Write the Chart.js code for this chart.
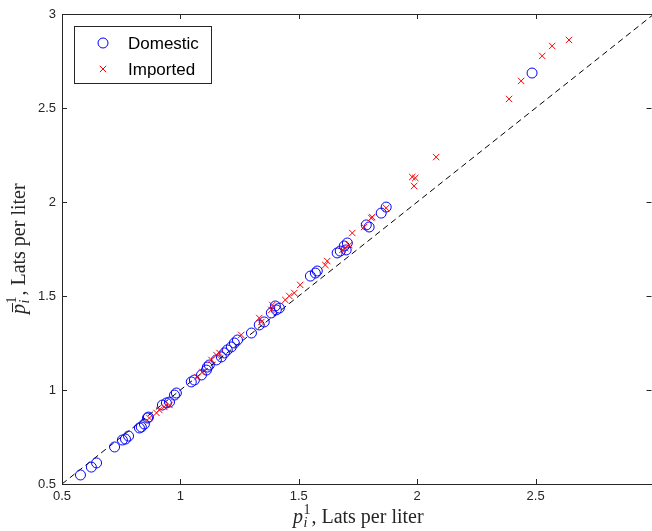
<!DOCTYPE html>
<html>
<head>
<meta charset="utf-8">
<script src="https://cdn.jsdelivr.net/npm/chart.js@4.4.1/dist/chart.umd.min.js"></script>
<style>
  html, body { margin: 0; padding: 0; background: #fff; overflow: hidden; }
  /* the reference crops the right edge of the axes box, so the canvas runs past the window */
  #wrap { width: 660px; height: 531px; position: relative; }
</style>
</head>
<body>
<div id="wrap"><canvas id="chart"></canvas></div>
<script>
/* ── Data ──────────────────────────────────────────────── */
const domesticX = [0.578, 0.624, 0.646, 0.722, 0.755, 0.768, 0.781, 0.827, 0.835, 0.848,
                   0.861, 0.865, 0.924, 0.941, 0.954, 0.975, 0.983, 1.046, 1.059, 1.089,
                   1.110, 1.114, 1.122, 1.152, 1.173, 1.186, 1.198, 1.215, 1.228, 1.241,
                   1.300, 1.333, 1.354, 1.384, 1.405, 1.401, 1.418, 1.549, 1.570, 1.578,
                   1.662, 1.675, 1.692, 1.705, 1.700, 1.785, 1.797, 1.848, 1.869, 2.485];
const domesticY = [0.548, 0.590, 0.612, 0.697, 0.734, 0.739, 0.755, 0.798, 0.803, 0.819,
                   0.851, 0.856, 0.920, 0.931, 0.936, 0.973, 0.984, 1.043, 1.053, 1.080,
                   1.106, 1.122, 1.133, 1.160, 1.176, 1.197, 1.213, 1.229, 1.250, 1.266,
                   1.303, 1.346, 1.362, 1.410, 1.426, 1.447, 1.436, 1.606, 1.622, 1.633,
                   1.729, 1.739, 1.766, 1.782, 1.745, 1.878, 1.867, 1.941, 1.973, 2.686];

const importedX = [0.869, 0.899, 0.911, 0.932, 0.954, 1.072, 1.093, 1.131, 1.152, 1.165,
                   1.257, 1.333, 1.342, 1.388, 1.384, 1.443, 1.460, 1.481, 1.506, 1.612,
                   1.620, 1.684, 1.696, 1.713, 1.726, 1.776, 1.806, 1.810, 1.869, 1.979,
                   1.992, 1.987, 2.080, 2.388, 2.439, 2.528, 2.570, 2.641];
const importedY = [0.851, 0.878, 0.894, 0.910, 0.920, 1.069, 1.096, 1.160, 1.186, 1.197,
                   1.293, 1.383, 1.362, 1.452, 1.426, 1.479, 1.500, 1.516, 1.559, 1.665,
                   1.686, 1.745, 1.755, 1.771, 1.835, 1.867, 1.915, 1.920, 1.968, 2.133,
                   2.128, 2.085, 2.239, 2.548, 2.644, 2.777, 2.830, 2.862];

const refLine    = [0.5, 3];                       // 45° line, y = x
const xTickVals  = [0.5, 1, 1.5, 2, 2.5, 3];
const yTickVals  = [0.5, 1, 1.5, 2, 2.5, 3];
const seriesNames = ['Domestic', 'Imported'];

const AXIS_CLR = '#262626';
const BLUE = '#0000ff';
const RED  = '#ff0000';

/* ── Axes box + inward ticks (MATLAB style) ────────────── */
const boxPlugin = {
  id: 'box',
  afterDatasetsDraw(chart) {
    const { ctx, chartArea: a, scales: { x, y } } = chart;
    const TL = 5;
    const right = Math.min(a.right, 651.5);
    ctx.save();
    ctx.strokeStyle = AXIS_CLR;
    ctx.lineWidth = 1;
    ctx.beginPath();
    xTickVals.forEach(v => {
      const px = Math.round(x.getPixelForValue(v)) + 0.5;
      ctx.moveTo(px, a.bottom); ctx.lineTo(px, a.bottom - TL);
      ctx.moveTo(px, a.top);    ctx.lineTo(px, a.top + TL);
    });
    yTickVals.forEach(v => {
      const py = Math.round(y.getPixelForValue(v)) + 0.5;
      ctx.moveTo(a.left, py); ctx.lineTo(a.left + TL, py);
      ctx.moveTo(right, py);  ctx.lineTo(right - TL, py);
    });
    ctx.stroke();
    ctx.strokeRect(Math.round(a.left) + 0.5, Math.round(a.top) + 0.5,
                   Math.round(a.right - a.left) - 1, Math.round(a.bottom - a.top));
    ctx.restore();
  }
};

/* ── Legend box in the upper-left corner ───────────────── */
const legendPlugin = {
  id: 'boxLegend',
  afterDraw(chart) {
    const { ctx, chartArea: a } = chart;
    const bx = a.left + 12, by = a.top + 12, bw = 137, bh = 57;
    ctx.save();
    ctx.fillStyle = '#fff';
    ctx.fillRect(bx, by, bw, bh);
    ctx.strokeStyle = AXIS_CLR;
    ctx.lineWidth = 1;
    ctx.strokeRect(bx + 0.5, by + 0.5, bw, bh);

    const mx = bx + 29;
    const rows = [by + 17, by + 43];
    ctx.strokeStyle = BLUE;
    ctx.beginPath(); ctx.arc(mx, rows[0], 5, 0, Math.PI * 2); ctx.stroke();
    ctx.strokeStyle = RED;
    ctx.beginPath();
    ctx.moveTo(mx - 3.2, rows[1] - 3.2); ctx.lineTo(mx + 3.2, rows[1] + 3.2);
    ctx.moveTo(mx + 3.2, rows[1] - 3.2); ctx.lineTo(mx - 3.2, rows[1] + 3.2);
    ctx.stroke();

    ctx.fillStyle = '#000';
    ctx.font = '17px "Liberation Sans", Arial, sans-serif';
    ctx.textBaseline = 'middle';
    ctx.textAlign = 'left';
    seriesNames.forEach((n, i) => ctx.fillText(n, bx + 54, rows[i] + 1));
    ctx.restore();
  }
};

/* ── LaTeX-ish axis titles: p_i^1 and p̄_i^1 ──────────── */
function mathLabel(ctx, cx, cy, bar) {
  const serif = '"Liberation Serif", "DejaVu Serif", serif';
  const big  = 'italic 20px ' + serif;
  const sml  = 'italic 14px ' + serif;
  const smlR = '14px ' + serif;
  const rest = '20px ' + serif;
  const tail = ', Lats per liter';

  ctx.font = big;  const wp = ctx.measureText('p').width;
  ctx.font = sml;  const wi = ctx.measureText('i').width;
  ctx.font = smlR; const w1 = ctx.measureText('1').width;
  ctx.font = rest; const wt = ctx.measureText(tail).width;
  const ws = Math.max(wi, w1) + 1;
  const total = wp + ws + wt;

  let x = cx - total / 2;
  ctx.textBaseline = 'alphabetic';
  ctx.textAlign = 'left';
  ctx.fillStyle = AXIS_CLR;

  ctx.font = big; ctx.fillText('p', x, cy);
  if (bar) {
    ctx.save();
    ctx.strokeStyle = AXIS_CLR; ctx.lineWidth = 1;
    ctx.beginPath(); ctx.moveTo(x + 2, cy - 12.5); ctx.lineTo(x + wp + 1, cy - 12.5); ctx.stroke();
    ctx.restore();
  }
  x += wp + 0.5;
  ctx.font = sml;  ctx.fillText('i', x, cy + 4);
  ctx.font = smlR; ctx.fillText('1', x, cy - 9);
  x += ws;
  ctx.font = rest; ctx.fillText(tail, x, cy);
}

const titlePlugin = {
  id: 'mathTitles',
  afterDraw(chart) {
    const { ctx, chartArea: a } = chart;
    ctx.save();
    mathLabel(ctx, (a.left + a.right) / 2, 523, false);
    ctx.translate(25, (a.top + a.bottom) / 2);
    ctx.rotate(-Math.PI / 2);
    mathLabel(ctx, 0, 0, true);
    ctx.restore();
  }
};

/* ── Chart ─────────────────────────────────────────────── */
const tickFont = { family: '"Liberation Sans", Arial, sans-serif', size: 13 };
const fmt = v => String(+(+v).toFixed(2));

new Chart(document.getElementById('chart'), {
  type: 'scatter',
  data: {
    datasets: [
      {
        label: seriesNames[0],
        data: domesticX.map((v, i) => ({ x: v, y: domesticY[i] })),
        pointStyle: 'circle',
        pointRadius: 5,
        pointBorderWidth: 1,
        borderColor: BLUE,
        backgroundColor: 'rgba(0,0,0,0)',
        order: 2
      },
      {
        label: seriesNames[1],
        data: importedX.map((v, i) => ({ x: v, y: importedY[i] })),
        pointStyle: 'crossRot',
        pointRadius: 4.5,
        pointBorderWidth: 1,
        borderColor: RED,
        backgroundColor: RED,
        order: 1
      },
      {
        type: 'line',
        label: '45°',
        data: refLine.map(v => ({ x: v, y: v })),
        borderColor: '#000',
        borderWidth: 1,
        borderDash: [6, 4],
        pointRadius: 0,
        fill: false,
        order: 3
      }
    ]
  },
  options: {
    responsive: true,
    maintainAspectRatio: false,
    animation: false,
    layout: { padding: { top: 14, right: 0, left: 0, bottom: 0 } },
    plugins: {
      legend:  { display: false },
      tooltip: { enabled: false }
    },
    scales: {
      x: {
        type: 'linear', min: 0.5, max: 3,
        grid: { display: false, drawTicks: false },
        border: { display: false },
        afterBuildTicks: s => { s.ticks = xTickVals.filter(v => v < 3).map(v => ({ value: v })); },
        afterFit: s => { s.height = 47; s.paddingLeft = 0; s.paddingRight = 0; },
        ticks: { color: AXIS_CLR, font: tickFont, padding: 5, maxRotation: 0, callback: fmt }
      },
      y: {
        type: 'linear', min: 0.5, max: 3,
        grid: { display: false, drawTicks: false },
        border: { display: false },
        afterBuildTicks: s => { s.ticks = yTickVals.map(v => ({ value: v })); },
        afterFit: s => { s.width = 62; s.paddingTop = 0; s.paddingBottom = 0; },
        ticks: { color: AXIS_CLR, font: tickFont, padding: 6, callback: fmt }
      }
    }
  },
  plugins: [boxPlugin, legendPlugin, titlePlugin]
});
</script>
</body>
</html>
